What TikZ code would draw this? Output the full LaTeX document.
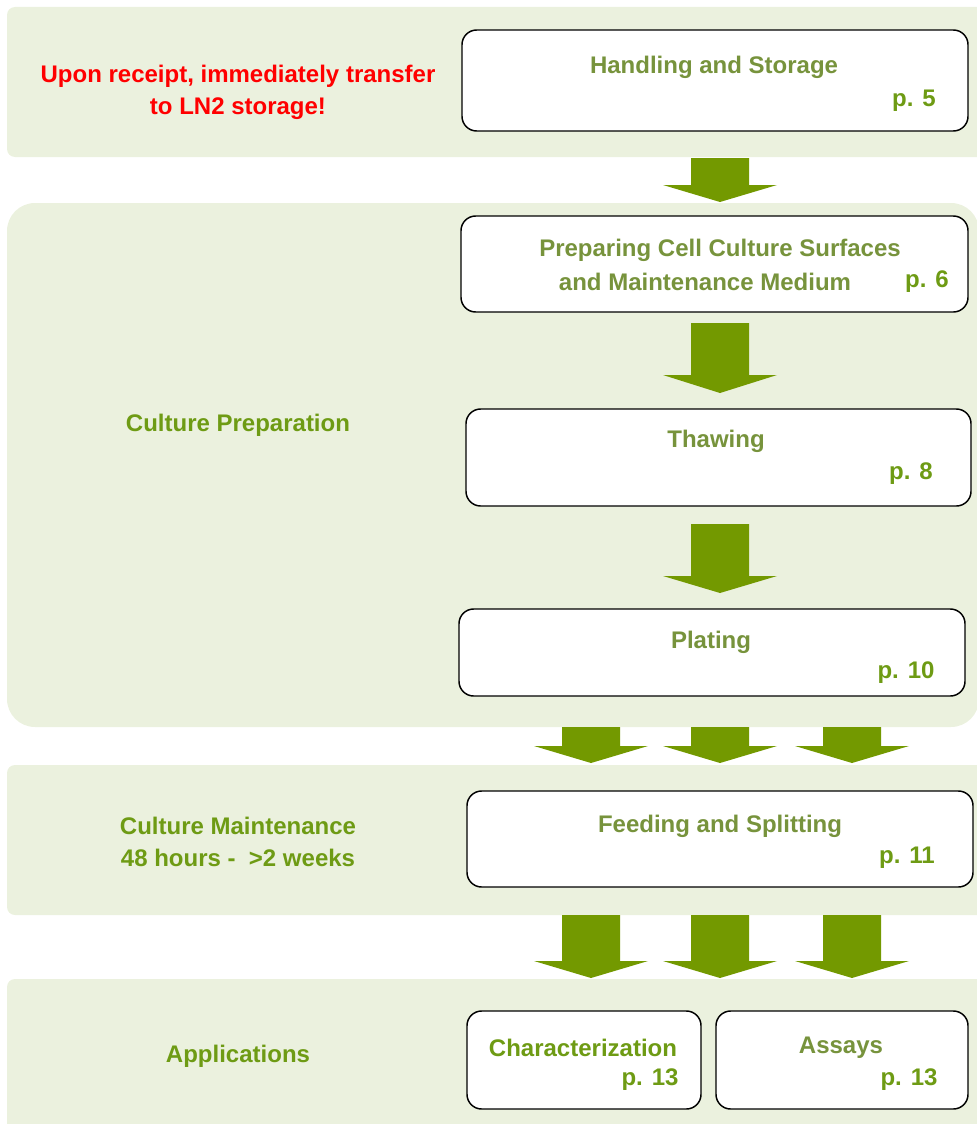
\documentclass[tikz,border=0pt]{standalone}
\usepackage{fontspec}
\setmainfont{Liberation Sans}
\usetikzlibrary{calc}

\definecolor{panelgreen}{HTML}{EBF1DE}
\definecolor{arrowgreen}{HTML}{739900}
\definecolor{titlegreen}{HTML}{77933C}
\definecolor{pagegreen}{HTML}{6E9B14}
\definecolor{alertred}{HTML}{FF0000}

\newcommand{\unitpx}{0.75pt}
% block arrow: centre x, shaft top, head top, tip
\newcommand{\bigarrow}[4]{%
  \fill[arrowgreen] (#1-29,#2) -- (#1+29,#2) -- (#1+29,#3) -- (#1+57,#3)
    -- (#1,#4) -- (#1-57,#3) -- (#1-29,#3) -- cycle;}

\tikzset{
  stepbox/.style={draw=black, line width=1.1pt, rounded corners=11pt, fill=white, inner sep=0pt},
  steptitle/.style={font=\bfseries\fontsize{18}{24}\selectfont, text=titlegreen, inner sep=0pt},
  pagelbl/.style={font=\bfseries\fontsize{18}{24}\selectfont, text=pagegreen, inner sep=0pt},
  phaselbl/.style={font=\bfseries\fontsize{18}{24}\selectfont, text=pagegreen, align=center, inner sep=0pt},
}

\begin{document}
\begin{tikzpicture}[x=0.75pt, y=-0.75pt]
\useasboundingbox (0,0) rectangle (977,1124);
\clip (0,0) rectangle (977,1124);

% panels
\fill[panelgreen, rounded corners=6pt] (7,7) rectangle (1000,157);
\fill[panelgreen, rounded corners=21pt] (7,203) rectangle (979,727);
\fill[panelgreen, rounded corners=6pt] (7,765) rectangle (1000,915);
\fill[panelgreen, rounded corners=6pt] (7,979) rectangle (1000,1150);

% phase labels
\node[phaselbl, text=alertred] (receipt) at (238,92) {Upon receipt, immediately transfer\\to LN2 storage!};
\node[phaselbl] (prepphase) at (238,425) {Culture Preparation};
\node[phaselbl] (maintphase) at (238,842) {Culture Maintenance\\48 hours -~ >2 weeks};
\node[phaselbl] (appphase) at (238,1056) {Applications};

% step boxes
\node[stepbox, minimum width=506*\unitpx, minimum height=101*\unitpx] (handling) at (715,80.5) {};
\node[stepbox, minimum width=507*\unitpx, minimum height=96*\unitpx] (preparing) at (714.5,264) {};
\node[stepbox, minimum width=505*\unitpx, minimum height=97*\unitpx] (thawing) at (718.5,457.5) {};
\node[stepbox, minimum width=506*\unitpx, minimum height=87*\unitpx] (plating) at (712,652.5) {};
\node[stepbox, minimum width=506*\unitpx, minimum height=96*\unitpx] (feeding) at (720,839) {};
\node[stepbox, minimum width=234*\unitpx, minimum height=98*\unitpx] (charact) at (584,1060) {};
\node[stepbox, minimum width=252*\unitpx, minimum height=98*\unitpx] (assays) at (842,1060) {};

% box texts
\node[steptitle] (handlingtxt) at (714,67) {Handling and Storage};
\node[pagelbl] (handlingpg) at (914,101) {p. 5};
\node[steptitle] (preptxta) at (720,250) {Preparing Cell Culture Surfaces};
\node[steptitle] (preptxtb) at (705,282) {and Maintenance Medium};
\node[pagelbl] (preppg) at (927,282) {p. 6};
\node[steptitle] (thawtxt) at (716,441) {Thawing};
\node[pagelbl] (thawpg) at (911,474) {p. 8};
\node[steptitle] (platetxt) at (711,642) {Plating};
\node[pagelbl] (platepg) at (906,673) {p. 10};
\node[steptitle] (feedtxt) at (720,826) {Feeding and Splitting};
\node[pagelbl] (feedpg) at (907,858) {p. 11};
\node[pagelbl] (characttxt) at (583,1048) {Characterization};
\node[pagelbl] (charactpg) at (650,1080) {p. 13};
\node[steptitle] (assaystxt) at (841,1048) {Assays};
\node[pagelbl] (assayspg) at (909,1080) {p. 13};

% arrows
\bigarrow{720}{158}{185}{202}
\bigarrow{720}{323}{375}{393}
\bigarrow{720}{524}{576}{593}
\foreach \ax in {591,720,852}{
  \bigarrow{\ax}{727}{746}{763}
  \bigarrow{\ax}{915}{961}{978}
}
\end{tikzpicture}
\end{document}
